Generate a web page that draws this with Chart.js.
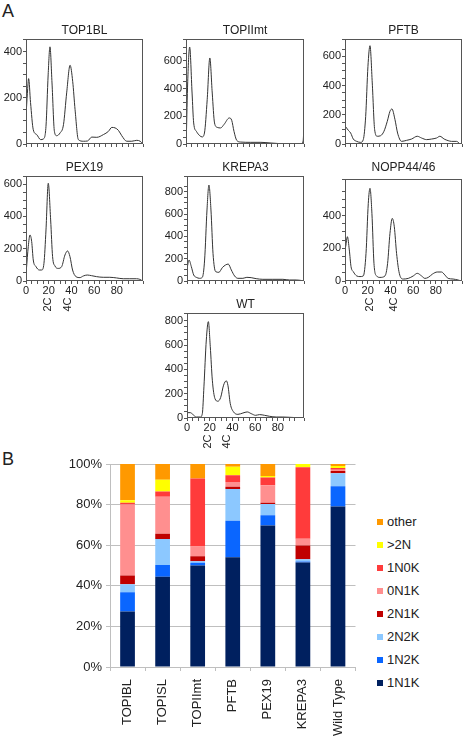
<!DOCTYPE html>
<html>
<head>
<meta charset="utf-8">
<script src="https://cdn.jsdelivr.net/npm/chart.js@4.4.1/dist/chart.umd.min.js"></script>
<style>
  body { margin: 0; width: 466px; height: 742px; position: relative; background: #fff; overflow: hidden;
         font-family: 'Liberation Sans', Arial, sans-serif; color: #222; }
  canvas { position: absolute; }
  .title { position: absolute; font-size: 12px; line-height: 14px; transform: translate(-50%, -50%); white-space: nowrap; }
  .letter { position: absolute; font-size: 18px; line-height: 18px; }
  #legend { position: absolute; left: 377px; top: 510px; font-size: 13px; }
  #legend div { height: 23px; display: flex; align-items: center; }
  #legend span { display: inline-block; width: 6px; height: 6px; margin-right: 4px; }
</style>
</head>
<body>
<div class="letter" style="left:2px;top:2px">A</div>
<div class="letter" style="left:2px;top:450px">B</div>
<div id="legend"></div>
<script>
// ---- panel A: DNA content histograms ----
const top1blX = [0, 1.2, 2.3, 4.0, 6.4, 9.4, 12.9, 15.3, 17.6, 19.5, 21.1, 22.9, 25, 27, 30, 33, 35.8, 38.8, 41.1, 43.2, 46.1, 50.5, 54.1, 57.9, 62.3, 68.2, 72.6, 75.5, 78.4, 81.4, 84.3, 88.7, 93.1, 97.5, 100.5, 102.9];
const top1blY = [120, 220, 284, 180, 62, 41, 19, 22, 77, 300, 422, 265, 55, 36, 48, 84, 222, 342, 272, 149, 19, 12, 13, 30, 29, 41, 55, 72, 70, 59, 36, 12, 12, 16, 12, 0];

const topiimtX = [0.3, 1.5, 3.2, 5.3, 6.7, 9.1, 12, 14.1, 16.1, 18.5, 20.8, 22.9, 24.9, 27.3, 30.2, 33.1, 37.8, 39.9, 41.9, 44.3, 47.8, 56.6, 65.4, 74.2, 85.9, 100, 102.2, 102.8];
const topiimtY = [50, 450, 700, 368, 152, 91, 60, 51, 79, 320, 621, 368, 152, 120, 116, 140, 188, 171, 91, 26, 14, 12, 12, 7, 2, 2, 20, 91];

const pftbX = [0.3, 2.9, 5, 7.3, 10.3, 13.8, 16.1, 18.2, 20.2, 22, 24, 26.1, 28.4, 31.4, 34.3, 37.2, 39.6, 41.3, 44, 46.3, 49.8, 54.2, 58.6, 63.6, 67.4, 71.8, 76.2, 80.6, 83.5, 87.3, 90.8, 93.8, 98.2, 101];
const pftbY = [121, 94, 75, 34, 18, 11, 30, 189, 532, 673, 418, 98, 53, 57, 87, 155, 224, 240, 167, 75, 18, 25, 34, 53, 41, 30, 34, 41, 53, 34, 23, 18, 18, 2];

const pex19X = [0.3, 2, 3.5, 5, 6.4, 8.8, 11.7, 13.8, 15.8, 17.6, 19.6, 21.7, 23.4, 25.5, 28.4, 31.4, 34.3, 36.6, 38.7, 41, 44, 47.5, 50.4, 53.9, 57.7, 62.1, 68, 73.8, 79.7, 85.6, 91.4, 97.3, 100.2, 102.6];
const pex19Y = [68, 213, 285, 244, 130, 89, 68, 68, 109, 316, 605, 378, 151, 93, 78, 89, 161, 186, 151, 68, 27, 21, 31, 37, 33, 27, 23, 23, 19, 14, 14, 14, 10, 0];

const krepa3X = [0.3, 1.8, 3.8, 5.9, 8.2, 11.1, 13.5, 15.5, 17.6, 19.3, 21.1, 22.9, 25.2, 28.1, 31.1, 34, 36.3, 39, 41.9, 44.8, 49.2, 52.7, 56.5, 60.9, 66.8, 75.6, 84.4, 90.2, 96.1, 102];
const krepa3Y = [129, 188, 129, 54, 33, 24, 33, 188, 637, 861, 637, 248, 84, 78, 120, 144, 152, 99, 45, 24, 24, 33, 30, 21, 15, 15, 15, 9, 9, 3];

const noppX = [0.6, 2.1, 3.8, 5.3, 7.3, 10.3, 13.2, 16.1, 18.5, 20.5, 22, 23.7, 25.5, 27.8, 30.8, 35.2, 37.5, 39.6, 41.6, 43.4, 45.4, 47.8, 51.3, 55.7, 60.1, 63.6, 67.4, 70.3, 73.3, 77.1, 81.2, 85, 87.9, 90.8, 95.2, 99.6, 102.6];
const noppY = [210, 271, 190, 88, 57, 31, 27, 31, 169, 475, 567, 414, 108, 31, 22, 31, 108, 292, 383, 332, 169, 47, 12, 16, 31, 47, 31, 16, 22, 43, 55, 55, 37, 16, 12, 6, 0];

const wtX = [0.3, 2.9, 5.3, 8.2, 11.7, 13.5, 14.9, 17, 18.8, 20.5, 22.3, 24.6, 27.2, 29.6, 32.2, 34.6, 36, 38.1, 41, 44.8, 49.2, 53, 56.5, 60.4, 63.9, 68.3, 72.7, 78.5, 84.4, 90.2, 96.1, 102];
const wtY = [44, 44, 28, 8, 8, 36, 256, 642, 793, 587, 311, 160, 138, 168, 270, 306, 270, 118, 50, 30, 41, 50, 36, 22, 28, 22, 14, 8, 8, 6, 3, 0];

const pex19Peaks = [19.6, 37.2];
const noppPeaks = [22, 43.1];
const wtPeaks = [18.5, 35.2];
const peakNames = ['2C', '4C'];

// ---- panel B: cell cycle stages ----
const categories = ['TOPIBL', 'TOPISL', 'TOPIImt', 'PFTB', 'PEX19', 'KREPA3', 'Wild Type'];
const seriesNames = ['1N1K', '1N2K', '2N2K', '2N1K', '0N1K', '1N0K', '>2N', 'other'];
const n1k1 = [27.3, 44.4, 50, 54.1, 69.7, 51.5, 79.1];
const n1k2 = [9.5, 5.8, 1.3, 17.9, 5.1, 0.5, 9.9];
const n2k2 = [4, 12.8, 0.8, 15.7, 5.5, 1.1, 6.4];
const n2k1 = [4.3, 2.6, 2.5, 1.1, 0.6, 6.8, 1.1];
const n0k1 = [35, 18.3, 4.8, 2.3, 8.6, 3.3, 0.7];
const n1k0 = [0.8, 2.6, 33.5, 3.3, 3.8, 35.2, 0.8];
const over2n = [1.2, 5.8, 0, 4.3, 0.8, 1.6, 1];
const other = [17.9, 7.7, 7.1, 1.3, 5.9, 0, 1];
const seriesValues = [n1k1, n1k2, n2k2, n2k1, n0k1, n1k0, over2n, other];

const seriesColors = ['#00205f', '#0a66ff', '#8cc8ff', '#c00000', '#ff8f8f', '#ff3b3b', '#ffff00', '#ff9900'];

Chart.defaults.font.family = "'Liberation Sans', Arial, sans-serif";
Chart.defaults.color = '#222';

const boxPlugin = {
  id: 'box',
  afterDraw(chart) {
    const { ctx, chartArea: a } = chart;
    ctx.save();
    ctx.strokeStyle = '#555';
    ctx.lineWidth = 1;
    ctx.strokeRect(Math.round(a.left) + 0.5, Math.round(a.top) + 0.5, Math.round(a.width) - 1, Math.round(a.height) - 1);
    ctx.restore();
  }
};

const peakPlugin = {
  id: 'peaks',
  afterDraw(chart, args, opts) {
    const { ctx, chartArea: a, scales: { x } } = chart;
    ctx.save();
    ctx.font = "11px 'Liberation Sans', Arial, sans-serif";
    ctx.fillStyle = '#222';
    ctx.textAlign = 'right';
    ctx.textBaseline = 'middle';
    (opts.marks || []).forEach((v, i) => {
      ctx.save();
      ctx.translate(x.getPixelForValue(v), a.bottom + 16.5);
      ctx.rotate(-Math.PI / 2);
      ctx.fillText(peakNames[i], 0, 0);
      ctx.restore();
    });
    ctx.restore();
  }
};

function histogram(title, xs, ys, yMax, box, xLabels, peaks, titleY) {
  const [l, t, r, b] = box;
  const cv = document.createElement('canvas');
  cv.width = r - l + 36;
  cv.height = b - t + 44;
  cv.style.left = (l - 30) + 'px';
  cv.style.top = (t - 8) + 'px';
  document.body.appendChild(cv);

  const lab = document.createElement('div');
  lab.className = 'title';
  lab.textContent = title;
  lab.style.left = ((l + r) / 2) + 'px';
  lab.style.top = titleY + 'px';
  document.body.appendChild(lab);

  new Chart(cv, {
    type: 'scatter',
    data: {
      datasets: [{
        data: xs.map((x, i) => ({ x: x, y: ys[i] })),
        showLine: true,
        borderColor: '#333',
        borderWidth: 1,
        pointRadius: 0,
        cubicInterpolationMode: 'monotone'
      }]
    },
    options: {
      responsive: false,
      animation: false,
      layout: { padding: { top: 8, right: 6, bottom: 20, left: 0 } },
      plugins: { legend: { display: false }, tooltip: { enabled: false }, peaks: { marks: peaks || [] } },
      scales: {
        x: {
          type: 'linear', min: 0, max: 103,
          afterFit(s) { s.height = 16; },
          border: { display: false },
          grid: { drawOnChartArea: false, tickLength: 3, color: '#555' },
          ticks: {
            stepSize: 5, padding: 0, maxRotation: 0, autoSkip: false,
            font: { size: 11 },
            callback: v => (xLabels && v % 20 === 0 && v < 100) ? v : ''
          }
        },
        y: {
          min: 0, max: yMax,
          afterFit(s) { s.width = 30; },
          border: { display: false },
          grid: { drawOnChartArea: false, tickLength: 3, color: '#555' },
          ticks: {
            stepSize: 50, padding: 1, autoSkip: false,
            font: { size: 11 },
            callback: v => (v % 200 === 0) ? v : ''
          }
        }
      }
    },
    plugins: [boxPlugin, peakPlugin]
  });
}

histogram('TOP1BL', top1blX, top1blY, 456, [26, 39, 143, 144], false, null, 29.5);
histogram('TOPIImt', topiimtX, topiimtY, 758, [186, 39, 304, 144], false, null, 29.5);
histogram('PFTB', pftbX, pftbY, 719, [345, 39, 462, 144], false, null, 29.5);
histogram('PEX19', pex19X, pex19Y, 650, [26, 176, 143, 281], true, pex19Peaks, 167);
histogram('KREPA3', krepa3X, krepa3Y, 942, [187, 176, 304, 281], false, null, 167);
histogram('NOPP44/46', noppX, noppY, 624, [345, 179, 462, 281], true, noppPeaks, 167);
histogram('WT', wtX, wtY, 864, [187, 313, 304, 418], true, wtPeaks, 303.5);

// ---- stacked bars ----
const bc = document.createElement('canvas');
bc.width = 362;
bc.height = 292;
bc.style.left = '0px';
bc.style.top = '450px';
document.body.appendChild(bc);

new Chart(bc, {
  type: 'bar',
  data: {
    labels: categories,
    datasets: seriesNames.map((name, i) => ({
      label: name,
      data: seriesValues[i],
      backgroundColor: seriesColors[i],
      borderWidth: 0,
      barPercentage: 0.42,
      categoryPercentage: 1
    }))
  },
  options: {
    responsive: false,
    animation: false,
    layout: { padding: { top: 14, right: 6, bottom: 0, left: 0 } },
    plugins: { legend: { display: false }, tooltip: { enabled: false } },
    scales: {
      x: {
        stacked: true,
        afterFit(s) { s.height = 75; },
        border: { color: '#bfbfbf' },
        grid: { offset: true, drawOnChartArea: false, tickLength: 4, color: '#bfbfbf' },
        ticks: { autoSkip: false, minRotation: 90, maxRotation: 90, padding: 8, font: { size: 13 } }
      },
      y: {
        stacked: true, min: 0, max: 100,
        afterFit(s) { s.width = 110; },
        border: { color: '#bfbfbf' },
        grid: { color: '#bfbfbf', tickLength: 4 },
        ticks: { stepSize: 20, padding: 4, font: { size: 13 }, callback: v => v + '%' }
      }
    }
  }
});

const legend = document.getElementById('legend');
seriesNames.slice().reverse().forEach((name, k) => {
  const i = seriesNames.length - 1 - k;
  const row = document.createElement('div');
  const sw = document.createElement('span');
  sw.style.background = seriesColors[i];
  row.appendChild(sw);
  row.appendChild(document.createTextNode(name));
  legend.appendChild(row);
});
</script>
</body>
</html>
